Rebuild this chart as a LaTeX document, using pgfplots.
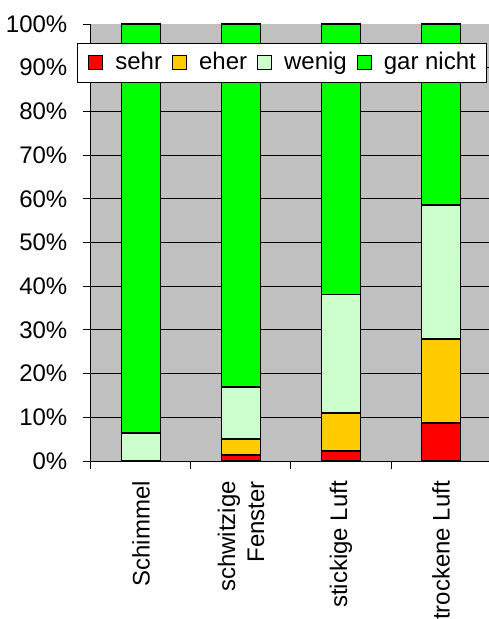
\documentclass[border=0pt]{standalone}
\usepackage{fontspec}
\setmainfont{Liberation Sans}
\usepackage{pgfplots}
\pgfplotsset{compat=1.18}

\definecolor{csehr}{HTML}{FF0000}
\definecolor{ceher}{HTML}{FFCC00}
\definecolor{cwenig}{HTML}{CCFFCC}
\definecolor{cgar}{HTML}{00FF00}
\definecolor{plotbg}{HTML}{C0C0C0}

\begin{document}
\fontsize{24}{29}\selectfont
\begin{tikzpicture}
  \begin{axis}[
    scale only axis,
    width=398pt,
    height=437pt,
    ybar stacked,
    bar width=39pt,
    axis background/.style={fill=plotbg},
    axis x line*=bottom,
    axis y line*=left,
    axis line style={black, line width=1pt},
    tick style={black, line width=1pt},
    major tick length=8pt,
    minor tick length=0pt,
    tick align=outside,
    % x-axis: tick marks between the categories, names as extra ticks
    xmin=-0.5, xmax=3.48,
    xtick={-0.5,0.5,1.5,2.5},
    xticklabels={},
    extra x ticks={0,1,2,3},
    extra x tick labels={Schimmel, {schwitzige\\Fenster}, stickige Luft, trockene Luft},
    extra x tick style={tick style={draw=none},
      ticklabel style={rotate=90, anchor=east, align=right, xshift=-4pt,
        font=\fontsize{24}{29}\selectfont}},
    % y-axis
    ymin=0, ymax=100,
    ytick={0,10,...,100},
    yticklabel={\pgfmathprintnumber{\tick}\%},
    /pgf/number format/assume math mode=true,
    y tick label style={font=\fontsize{24}{29}\selectfont, anchor=east, xshift=-7.5pt},
    % grid lines between 10 and 90 only
    minor ytick={10,20,...,90},
    yminorgrids=true,
    minor grid style={black, line width=1pt},
    % legend
    legend columns=4,
    legend style={at={(-0.0352,0.957)}, anchor=north west, draw=black, fill=white, line width=0.8pt,
      font=\fontsize{24}{29}\selectfont, inner xsep=11pt, inner ysep=7pt,
      nodes={inner xsep=0pt, inner ysep=2pt},
      /tikz/every even column/.append style={column sep=10pt},
      /tikz/every odd column/.append style={column sep=12pt}},
    legend image code/.code={\draw[#1, line width=1pt] (0pt,-7pt) rectangle (14pt,7pt);},
    every axis plot/.append style={draw=black, line width=1.5pt},
    clip=false,
  ]
    \addplot[fill=csehr] coordinates {(0,0) (1,1.4) (2,2.3) (3,8.7)};
    \addlegendentry{sehr}
    \addplot[fill=ceher] coordinates {(0,0) (1,3.6) (2,8.7) (3,19.2)};
    \addlegendentry{eher}
    \addplot[fill=cwenig] coordinates {(0,6.4) (1,11.9) (2,27.1) (3,30.7)};
    \addlegendentry{wenig}
    \addplot[fill=cgar] coordinates {(0,93.6) (1,83.1) (2,61.9) (3,41.4)};
    \addlegendentry{gar nicht}
  \end{axis}
  \pgfresetboundingbox
  \path (-91pt,-158pt) rectangle (398pt,461pt);
\end{tikzpicture}
\end{document}
